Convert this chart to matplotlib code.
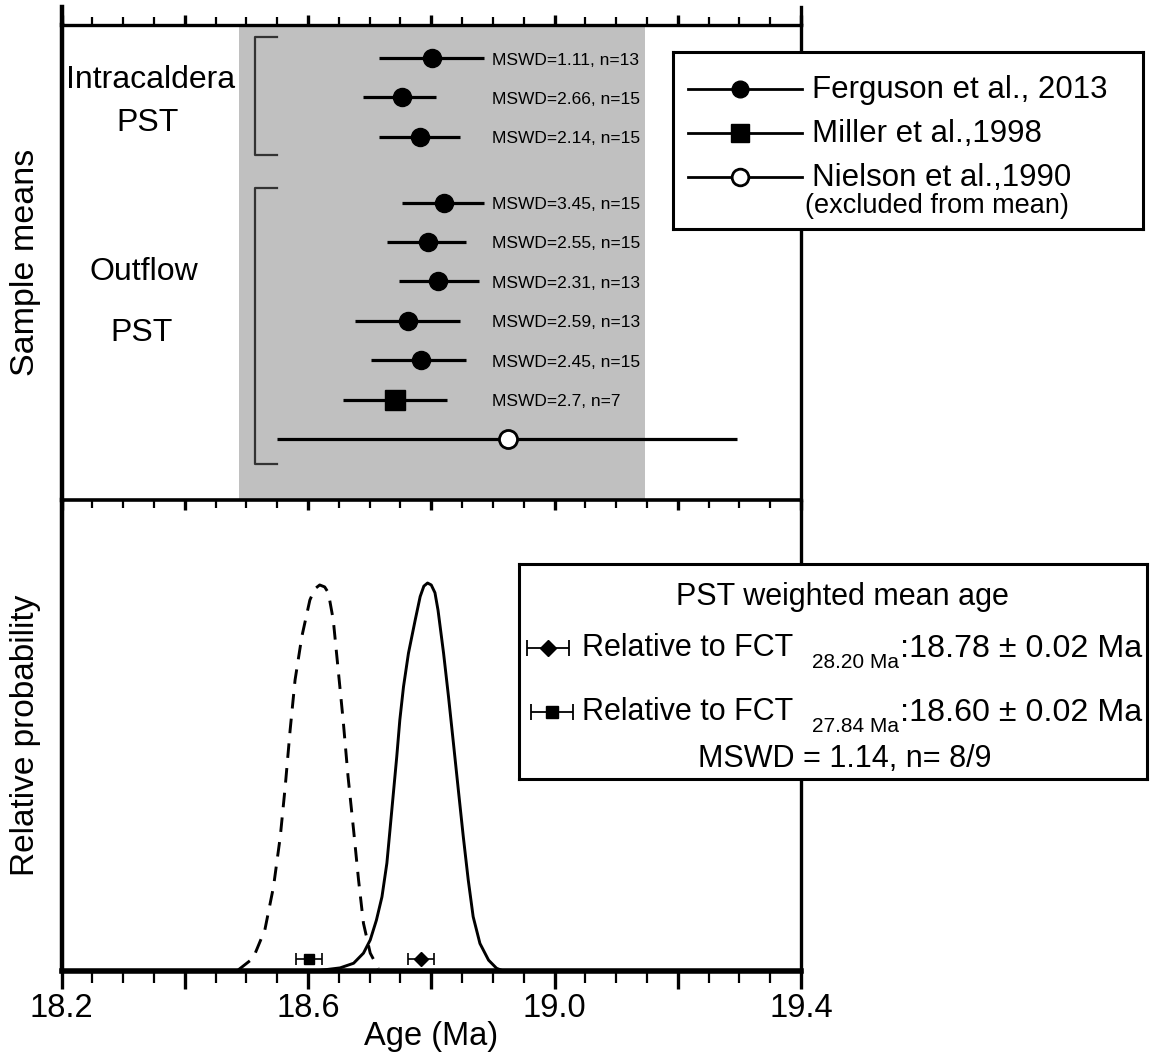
import matplotlib
matplotlib.use('Agg')
import matplotlib.pyplot as plt
from matplotlib import font_manager
from matplotlib.lines import Line2D
from matplotlib.ticker import MultipleLocator, FuncFormatter

# Sample means (top panel)
sample_age = [18.801, 18.752, 18.781, 18.820, 18.794, 18.811, 18.762, 18.783, 18.741, 18.924]
err_low = [0.085, 0.062, 0.065, 0.067, 0.065, 0.064, 0.085, 0.080, 0.085, 0.375]
err_high = [0.085, 0.056, 0.066, 0.066, 0.062, 0.066, 0.085, 0.073, 0.084, 0.372]
source = ['Ferguson'] * 8 + ['Miller', 'Nielson']
mswd_labels = ['MSWD=1.11, n=13', 'MSWD=2.66, n=15', 'MSWD=2.14, n=15',
               'MSWD=3.45, n=15', 'MSWD=2.55, n=15', 'MSWD=2.31, n=13',
               'MSWD=2.59, n=13', 'MSWD=2.45, n=15', 'MSWD=2.7, n=7', '']
group_names = ['Intracaldera\nPST', 'Outflow\nPST']
group_sizes = [3, 7]

# Probability curves (bottom panel)
solid_x = [18.611, 18.652, 18.674, 18.690, 18.701, 18.711, 18.720, 18.728, 18.733, 18.738,
           18.744, 18.749, 18.755, 18.763, 18.774, 18.782, 18.788, 18.794, 18.800, 18.806,
           18.811, 18.820, 18.828, 18.836, 18.844, 18.852, 18.860, 18.868, 18.879, 18.893,
           18.906, 18.917]
solid_y = [0.0, 0.008, 0.020, 0.046, 0.080, 0.131, 0.191, 0.278, 0.363, 0.449,
           0.552, 0.647, 0.733, 0.819, 0.905, 0.965, 0.992, 1.0, 0.995, 0.975,
           0.930, 0.819, 0.707, 0.587, 0.466, 0.346, 0.235, 0.140, 0.071, 0.028,
           0.007, 0.0]
dashed_x = [18.487, 18.511, 18.530, 18.544, 18.555, 18.563, 18.571, 18.579, 18.590, 18.603,
            18.611, 18.619, 18.627, 18.633, 18.641, 18.649, 18.657, 18.665, 18.674, 18.682,
            18.690, 18.701, 18.714]
dashed_y = [0.003, 0.033, 0.106, 0.217, 0.346, 0.475, 0.621, 0.750, 0.862, 0.956,
            0.985, 0.995, 0.990, 0.975, 0.905, 0.776, 0.647, 0.501, 0.363, 0.235,
            0.123, 0.046, 0.007]

# weighted means: FCT 28.20 Ma and FCT 27.84 Ma
mean_age = [18.783, 18.602]
mean_err = [0.021, 0.021]

names = {f.name for f in font_manager.fontManager.ttflist}
NARROW = 'Liberation Sans Narrow' if 'Liberation Sans Narrow' in names else 'Liberation Sans'
plt.rcParams['font.family'] = ['Liberation Sans', 'DejaVu Sans']

W, H = 1152, 1055


def fig_box(x0, y0, x1, y1):
    # pixel box -> figure fraction
    return [x0 / W, 1 - y1 / H, (x1 - x0) / W, (y1 - y0) / H]


fig = plt.figure(figsize=(W / 100, H / 100), dpi=100)
ax2 = fig.add_axes(fig_box(61.5, 500, 801, 971))
ax1 = fig.add_axes(fig_box(61.5, 25, 801, 500), sharex=ax2)
ax1.set_zorder(2)

# ---- top panel: sample means
ypos = []
start = 0
for n in group_sizes:
    ypos += [start + j for j in range(n)]
    start += n + 0.67

ax1.axvspan(18.488, 19.147, color='#c0c0c0', zorder=0, lw=0)
styles = {'Ferguson': dict(marker='o', ms=13, mfc='k', mec='k'),
          'Miller': dict(marker='s', ms=14, mfc='k', mec='k'),
          'Nielson': dict(marker='o', ms=13, mfc='white', mec='k', mew=2)}
for i in range(len(sample_age)):
    ax1.errorbar(sample_age[i], ypos[i], xerr=[[err_low[i]], [err_high[i]]],
                 fmt='none', ecolor='k', elinewidth=2.3, capsize=0, zorder=2)
    ax1.plot(sample_age[i], ypos[i], ls='none', zorder=3, **styles[source[i]])
    ax1.text(18.898, ypos[i] + 0.05, mswd_labels[i], fontsize=12.5, family=NARROW,
             va='center', ha='left', zorder=4)

# group brackets and labels
start = 0
for name, n in zip(group_names, group_sizes):
    top = ypos[start] - (0.53 if start == 0 else 0.38)
    bot = ypos[start + n - 1] + (0.46 if start == 0 else 0.63)
    ax1.plot([18.550, 18.514, 18.514, 18.550], [top, top, bot, bot],
             color='#333333', lw=1.6, zorder=2)
    line1, line2 = name.split('\n')
    mid = (ypos[start] + ypos[start + n - 1]) / 2
    if start == 0:
        ax1.text(18.344, 0.56, line1, fontsize=23, ha='center', va='center')
        ax1.text(18.340, 1.65, line2, fontsize=23, ha='center', va='center')
    else:
        ax1.text(18.333, mid - 1.25, line1, fontsize=23, ha='center', va='center')
        ax1.text(18.330, mid + 0.32, line2, fontsize=23, ha='center', va='center')
    start += n

ax1.set_ylim(11.22, -0.84)
ax1.set_ylabel('Sample means', fontsize=24.5)
ax1.yaxis.set_label_coords(-0.028, 0.5)

# ---- bottom panel: relative probability
ax2.plot(solid_x, solid_y, color='k', lw=2.1, solid_joinstyle='round', zorder=3)
ax2.plot(dashed_x, dashed_y, color='k', lw=2.1, ls=(0, (5, 3.5)), zorder=3)
ax2.errorbar(mean_age[0], 0.032, xerr=mean_err[0], fmt='D', ms=7, color='k',
             elinewidth=1.2, capsize=4, capthick=1.2, zorder=4)
ax2.errorbar(mean_age[1], 0.032, xerr=mean_err[1], fmt='s', ms=7, color='k',
             elinewidth=1.2, capsize=4, capthick=1.2, zorder=4)
ax2.set_ylim(0, 1.214)
ax2.set_xlim(18.2, 19.4)
ax2.set_ylabel('Relative probability', fontsize=24)
ax2.yaxis.set_label_coords(-0.028, 0.5)
tick_font = 27 if NARROW != 'Liberation Sans' else 23.5
ax2.set_xlabel('Age (Ma)', fontsize=tick_font, family=NARROW, labelpad=-2)


def age_fmt(v, pos):
    k = round((v - 18.2) / 0.4, 6)
    return f'{v:.1f}' if abs(k - round(k)) < 1e-4 else ''


for ax in (ax1, ax2):
    ax.xaxis.set_major_locator(MultipleLocator(0.2))
    ax.xaxis.set_minor_locator(MultipleLocator(0.05))
    ax.tick_params(axis='y', left=False, labelleft=False, right=False)
    ax.spines['left'].set_linewidth(3.2)
    ax.spines['right'].set_linewidth(2.4)
    ax.spines['top'].set_linewidth(2.4)
    ax.spines['bottom'].set_linewidth(2.6)

# top panel: ticks above the top edge and below the dividing line
ax2.spines['top'].set_visible(False)
ax1.tick_params(axis='x', which='both', bottom=True, labelbottom=False, top=True,
                labeltop=False, direction='out')
ax1.tick_params(axis='x', which='major', length=7.5, width=2.4)
ax1.tick_params(axis='x', which='minor', length=5.5, width=1.6)

ax2.spines['bottom'].set_linewidth(4)
ax2.xaxis.set_major_formatter(FuncFormatter(age_fmt))
ax2.tick_params(axis='x', which='both', bottom=True, top=False, direction='out')
ax2.tick_params(axis='x', which='major', length=13, width=2.4, labelsize=tick_font, pad=3)
ax2.tick_params(axis='x', which='minor', length=8.5, width=1.6)
for lab in ax2.get_xticklabels():
    lab.set_family(NARROW)

# spines reaching above the top panel
for xp in (61.5, 801):
    fig.add_artist(Line2D([xp / W, xp / W], [1 - 25 / H, 1 - 7 / H], color='k',
                          lw=3.2 if xp < 100 else 2.4))

# ---- legend for the sample means
lax = fig.add_axes(fig_box(673, 52, 1143, 229))
lax.set_zorder(3)
lax.set_xlim(673, 1143)
lax.set_ylim(229, 52)
lax.set_xticks([])
lax.set_yticks([])
for s in lax.spines.values():
    s.set_linewidth(2.2)
leg_rows = [('Ferguson', 'Ferguson et al., 2013', 89),
            ('Miller', 'Miller et al.,1998', 133),
            ('Nielson', 'Nielson et al.,1990', 177)]
for key, label, yy in leg_rows:
    lax.plot([688, 802], [yy, yy], color='k', lw=2.0)
    st = dict(styles[key])
    st['ms'] = st['ms'] - 1
    lax.plot(740, yy, ls='none', **st)
    lax.text(812, yy + 1, label, fontsize=22.5, va='center', ha='left')
lax.text(805, 206, '(excluded from mean)', fontsize=19.5, va='center', ha='left')

# ---- box with the weighted mean ages
bax = fig.add_axes(fig_box(519, 564, 1147, 779))
bax.set_zorder(3)
bax.set_xlim(519, 1147)
bax.set_ylim(779, 564)
bax.set_xticks([])
bax.set_yticks([])
for s in bax.spines.values():
    s.set_linewidth(2.2)
bax.text(842, 597, 'PST weighted mean age', fontsize=22, ha='center', va='center')
box_rows = [('D', 548, 648, '28.20 Ma', ':18.78 \u00b1 0.02 Ma'),
            ('s', 552, 712, '27.84 Ma', ':18.60 \u00b1 0.02 Ma')]
for mk, mx, yy, sub, val in box_rows:
    bax.errorbar(mx, yy, xerr=21, fmt=mk, ms=8, color='k', elinewidth=1.3,
                 capsize=5.5, capthick=1.3)
    bax.text(582, yy, 'Relative to FCT', fontsize=22, ha='left', va='center')
    bax.text(899, yy + 14, sub, fontsize=15, family=NARROW, ha='right', va='center')
    bax.text(900, yy + 1, val, fontsize=23.2, ha='left', va='center')
bax.text(845, 759, 'MSWD = 1.14, n= 8/9', fontsize=22, ha='center', va='center')

fig.savefig('out.png', dpi=100)
